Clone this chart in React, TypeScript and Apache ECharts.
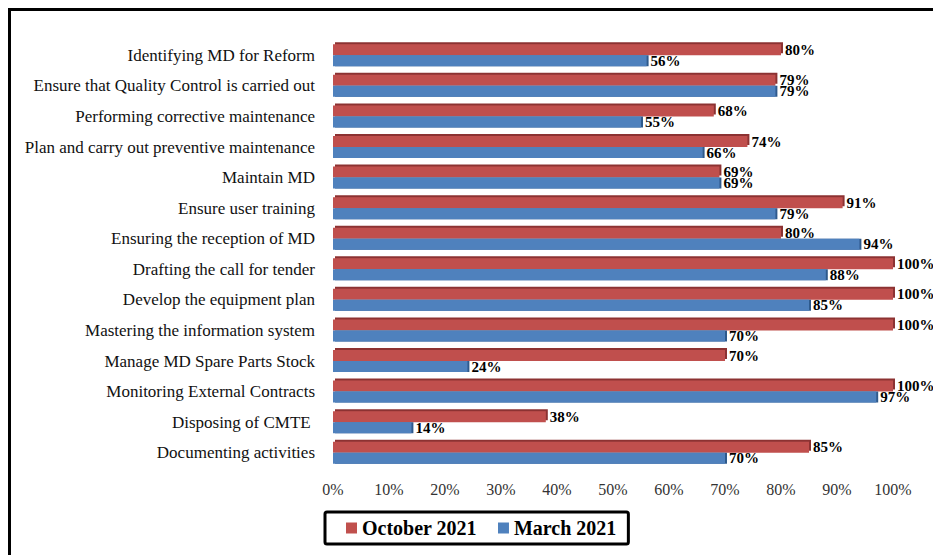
import React, { useEffect, useRef } from "react";
import * as echarts from "echarts";

const categories = [
  "Identifying MD for Reform",
  "Ensure that Quality Control is carried out",
  "Performing corrective maintenance",
  "Plan and carry out preventive maintenance",
  "Maintain MD",
  "Ensure user training",
  "Ensuring the reception of MD",
  "Drafting the call for tender",
  "Develop the equipment plan",
  "Mastering the information system",
  "Manage MD Spare Parts Stock",
  "Monitoring External Contracts",
  "Disposing of CMTE ",
  "Documenting activities",
];
const october2021 = [80, 79, 68, 74, 69, 91, 80, 100, 100, 100, 70, 100, 38, 85];
const march2021 = [56, 79, 55, 66, 69, 79, 94, 88, 85, 70, 24, 97, 14, 70];
const seriesNames = ["October 2021", "March 2021"];

const FONT = "'Liberation Serif', 'DejaVu Serif', serif";

export default function App() {
  const ref = useRef<HTMLDivElement>(null);
  useEffect(() => {
    if (!ref.current) return;
    const chart = echarts.init(ref.current, null, { renderer: "svg" });
    const label = {
      show: true,
      position: "right" as const,
      distance: 4,
      formatter: "{c}%",
      color: "#000",
      fontFamily: FONT,
      fontWeight: "bold" as const,
      fontSize: 15,
    };
    chart.setOption({
      animation: false,
      backgroundColor: "#fff",
      graphic: [
        {
          type: "rect",
          shape: { x: 9.5, y: 9.5, width: 1000, height: 1000 },
          style: { fill: "none", stroke: "#000", lineWidth: 3 },
          silent: true,
          z: 100,
        },
      ],
      grid: { left: 333, right: 40, top: 40, bottom: 87, containLabel: false },
      xAxis: {
        type: "value",
        min: 0,
        max: 100,
        interval: 10,
        axisLine: { show: false },
        axisTick: { show: false },
        splitLine: { show: false },
        axisLabel: {
          formatter: "{value}%",
          fontFamily: FONT,
          fontSize: 16,
          color: "#333",
          margin: 13,
        },
      },
      yAxis: {
        type: "category",
        inverse: true,
        data: categories,
        axisLine: { show: false },
        axisTick: { show: false },
        axisLabel: {
          fontFamily: FONT,
          fontSize: 17,
          color: "#111",
          margin: 18,
        },
      },
      legend: {
        data: seriesNames,
        left: 325,
        top: 512,
        itemWidth: 11,
        itemHeight: 11,
        itemGap: 21,
        padding: [6, 12, 6, 21],
        borderColor: "#000",
        borderWidth: 3,
        borderRadius: 2,
        textStyle: {
          fontFamily: FONT,
          fontWeight: "bold",
          fontSize: 20,
          color: "#000",
        },
        icon: "rect",
      },
      series: [
        {
          name: seriesNames[0],
          type: "bar",
          data: october2021,
          barWidth: 11,
          barGap: "0%",
          itemStyle: {
            color: "#c0504d",
            shadowColor: "#8c3230",
            shadowOffsetX: 2,
            shadowOffsetY: -2,
            shadowBlur: 0,
          },
          label,
        },
        {
          name: seriesNames[1],
          type: "bar",
          data: march2021,
          barWidth: 11,
          barGap: "0%",
          itemStyle: {
            color: "#4f81bd",
            shadowColor: "#2f5a8c",
            shadowOffsetX: 2,
            shadowOffsetY: 0,
            shadowBlur: 0,
          },
          label,
        },
      ],
    });
    return () => chart.dispose();
  }, []);
  return (
    <div
      ref={ref}
      style={{ position: "fixed", left: 0, top: 0, width: 933, height: 555 }}
    />
  );
}
